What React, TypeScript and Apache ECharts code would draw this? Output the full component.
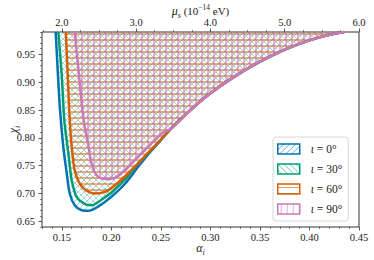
import React, { useEffect, useRef } from 'react';
import * as echarts from 'echarts';

// ---- data ----
const seriesNames = ['ι = 0°', 'ι = 30°', 'ι = 60°', 'ι = 90°'];
const lineColors = ['#0173b2', '#029e73', '#d55e00', '#cc78bc'];
const hatchKinds = ['/', '\\', '-', '|'];

const alphaTicks = [0.15, 0.2, 0.25, 0.3, 0.35, 0.4, 0.45];
const chiTicks = [0.65, 0.7, 0.75, 0.8, 0.85, 0.9, 0.95];
const muTicks = [2.0, 3.0, 4.0, 5.0, 6.0];

// shared upper-right branch (all contours coincide here)
const upperBranch: [number, number][] = [
  [0.26, 0.816], [0.28, 0.850], [0.30, 0.880], [0.32, 0.905], [0.34, 0.927],
  [0.36, 0.946], [0.38, 0.962], [0.40, 0.975], [0.42, 0.985], [0.435, 0.99],
];

const contour0: [number, number][] = [
  [0.1438, 0.99], [0.1462, 0.91], [0.1482, 0.85], [0.1515, 0.784], [0.155, 0.736],
  [0.158, 0.700], [0.163, 0.679], [0.170, 0.670], [0.177, 0.669], [0.187, 0.677],
  [0.200, 0.694], [0.214, 0.718], [0.227, 0.748], [0.237, 0.770], [0.247, 0.790],
];
const contour30: [number, number][] = [
  [0.1465, 0.99], [0.150, 0.91], [0.1525, 0.832], [0.1566, 0.772], [0.160, 0.724],
  [0.165, 0.694], [0.1734, 0.681], [0.180, 0.679], [0.190, 0.689], [0.200, 0.702],
  [0.213, 0.724], [0.226, 0.751], [0.237, 0.772], [0.247, 0.791],
];
const contour60: [number, number][] = [
  [0.154, 0.99], [0.156, 0.91], [0.158, 0.832], [0.160, 0.784], [0.163, 0.742],
  [0.168, 0.718], [0.175, 0.705], [0.1835, 0.700], [0.1936, 0.703], [0.2037, 0.715],
  [0.217, 0.736], [0.227, 0.754], [0.237, 0.773], [0.247, 0.791],
];
const contour90: [number, number][] = [
  [0.163, 0.99], [0.1675, 0.91], [0.172, 0.832], [0.177, 0.784], [0.180, 0.754],
  [0.185, 0.733], [0.1936, 0.726], [0.202, 0.727], [0.212, 0.739], [0.222, 0.757],
  [0.232, 0.775], [0.244, 0.796], [0.252, 0.809],
];
const contours = [contour0, contour30, contour60, contour90].map((c) => c.concat(upperBranch));

// axis ranges
const alphaMin = 0.13;
const alphaMax = 0.45;
const chiMin = 0.64;
const chiMax = 0.99;
const alphaPerMu = 0.075; // alpha = 0.075 * mu (top axis)

function steps(a: number, b: number, step: number, major: number[]): number[] {
  const out: number[] = [];
  const n = Math.round((b - a) / step);
  for (let i = 0; i <= n; i++) {
    const v = +(a + i * step).toFixed(4);
    if (!major.some((m) => Math.abs(m - v) < 1e-6)) out.push(v);
  }
  return out;
}

function hatch(kind: string, color: string, width: number) {
  const s = 6;
  const c = document.createElement('canvas');
  c.width = s;
  c.height = s;
  const ctx = c.getContext('2d')!;
  ctx.strokeStyle = color;
  ctx.lineWidth = width;
  ctx.beginPath();
  const mid = width >= 1.5 ? 4 : 3.5;
  if (kind === '/') {
    for (const o of [-s, 0, s]) { ctx.moveTo(o, s); ctx.lineTo(o + s, 0); }
  } else if (kind === '\\') {
    for (const o of [-s, 0, s]) { ctx.moveTo(o, 0); ctx.lineTo(o + s, s); }
  } else if (kind === '-') {
    ctx.moveTo(0, mid); ctx.lineTo(s, mid);
  } else {
    ctx.moveTo(mid, 0); ctx.lineTo(mid, s);
  }
  ctx.stroke();
  return { image: c, repeat: 'repeat', imageWidth: s, imageHeight: s } as any;
}

function hexToRgba(hex: string, a: number) {
  const r = parseInt(hex.slice(1, 3), 16);
  const g = parseInt(hex.slice(3, 5), 16);
  const b = parseInt(hex.slice(5, 7), 16);
  return `rgba(${r},${g},${b},${a})`;
}

const SERIF = 'Liberation Serif';
const tickColor = '#333';
const hatchAlpha = [0.35, 0.35, 0.5, 0.55];
const hatchWidth = [1, 1, 2, 2];

export default function App() {
  const ref = useRef<HTMLDivElement>(null);
  useEffect(() => {
    if (!ref.current) return;
    const chart = echarts.init(ref.current, undefined, { renderer: 'svg' });
    const patterns = hatchKinds.map((k, i) => hatch(k, hexToRgba(lineColors[i], hatchAlpha[i]), hatchWidth[i]));
    const legendPatterns = hatchKinds.map((k, i) => hatch(k, hexToRgba(lineColors[i], 0.6), 1));

    const nameRich = {
      a: { fontFamily: SERIF, fontStyle: 'italic', fontSize: 12, lineHeight: 16, color: '#222' },
      s: { fontFamily: SERIF, fontStyle: 'italic', fontSize: 8, lineHeight: 8, verticalAlign: 'bottom', color: '#222' },
      n: { fontFamily: SERIF, fontSize: 11, lineHeight: 16, color: '#222' },
      p: { fontFamily: SERIF, fontSize: 7.5, lineHeight: 8, verticalAlign: 'top', color: '#222' },
    };

    const fillSeries = contours.map((pts, i) => ({
      type: 'custom',
      name: seriesNames[i],
      xAxisIndex: 0,
      yAxisIndex: 0,
      data: pts,
      silent: true,
      z: 1,
      renderItem: (params: any, api: any) => {
        if (params.dataIndex !== 0) return null;
        const points = pts.map((p) => api.coord(p));
        return {
          type: 'polygon',
          shape: { points },
          style: { fill: patterns[i], stroke: 'none' },
        };
      },
    }));

    const lineSeries = contours.map((pts, i) => ({
      type: 'line',
      name: seriesNames[i],
      xAxisIndex: 0,
      yAxisIndex: 0,
      data: pts,
      showSymbol: false,
      smooth: 0.3,
      silent: true,
      z: 3,
      lineStyle: { color: lineColors[i], width: 2.5 },
      itemStyle: { color: lineColors[i] },
    }));

    const labelStyle = { fontFamily: SERIF, fontSize: 10.5, color: '#222' };

    chart.setOption({
      animation: false,
      textStyle: { fontFamily: SERIF },
      grid: {
        left: 42, right: 15, top: 32, bottom: 33,
        outerBoundsMode: 'none', containLabel: false,
        show: true, borderColor: '#333', borderWidth: 1, backgroundColor: 'transparent',
      },
      legend: {
        left: 273,
        top: 137,
        orient: 'vertical',
        icon: 'rect',
        itemWidth: 22,
        itemHeight: 10,
        itemGap: 8,
        padding: [6, 6, 6, 4],
        backgroundColor: 'rgba(255,255,255,0.85)',
        borderColor: '#d8d8d8',
        borderWidth: 1,
        borderRadius: 3,
        selectedMode: false,
        data: seriesNames.map((n, i) => ({
          name: n,
          itemStyle: { color: legendPatterns[i], borderColor: lineColors[i], borderWidth: 1.5 },
        })),
        formatter: (name: string) => '{i|ι}{t|' + name.slice(1) + '}',
        textStyle: {
          fontFamily: SERIF,
          padding: [0, 0, 0, 6],
          lineHeight: 12,
          rich: {
            i: { fontFamily: SERIF, fontStyle: 'italic', fontSize: 11.5, color: '#222', lineHeight: 12 },
            t: { fontFamily: SERIF, fontSize: 11.5, color: '#222', lineHeight: 12 },
          },
        },
      },
      xAxis: [
        {
          type: 'value', position: 'bottom', min: alphaMin, max: alphaMax,
          axisLine: { show: false, onZero: false },
          splitLine: { show: false },
          axisTick: { show: true, customValues: alphaTicks, length: 3.5, lineStyle: { color: tickColor, width: 0.8 } },
          axisLabel: { customValues: alphaTicks, formatter: (v: number) => v.toFixed(2), margin: 5, ...labelStyle },
          name: '{a|α}{s|i}', nameLocation: 'middle', nameGap: 13, nameMoveOverlap: false,
          nameTextStyle: { rich: nameRich },
        },
        {
          type: 'value', position: 'bottom', min: alphaMin, max: alphaMax,
          axisLine: { show: false, onZero: false }, splitLine: { show: false },
          axisTick: { show: true, customValues: steps(0.13, 0.45, 0.01, alphaTicks), length: 2, lineStyle: { color: tickColor, width: 0.6 } },
          axisLabel: { show: false },
        },
        {
          type: 'value', position: 'top', min: alphaMin / alphaPerMu, max: alphaMax / alphaPerMu,
          axisLine: { show: false, onZero: false }, splitLine: { show: false },
          axisTick: { show: true, customValues: muTicks, length: 3.5, lineStyle: { color: tickColor, width: 0.8 } },
          axisLabel: { customValues: muTicks, formatter: (v: number) => v.toFixed(1), margin: 4, ...labelStyle },
          name: '{a|μ}{s|s}{n| (10}{p|−14}{n| eV)}', nameLocation: 'middle', nameGap: 13, nameMoveOverlap: false,
          nameTextStyle: { rich: nameRich },
        },
        {
          type: 'value', position: 'top', min: alphaMin / alphaPerMu, max: alphaMax / alphaPerMu,
          axisLine: { show: false, onZero: false }, splitLine: { show: false },
          axisTick: { show: true, customValues: steps(1.75, 6.0, 0.25, muTicks), length: 2, lineStyle: { color: tickColor, width: 0.6 } },
          axisLabel: { show: false },
        },
      ],
      yAxis: [
        {
          type: 'value', position: 'left', min: chiMin, max: chiMax,
          axisLine: { show: false, onZero: false }, splitLine: { show: false },
          axisTick: { show: true, customValues: chiTicks, length: 3.5, lineStyle: { color: tickColor, width: 0.8 } },
          axisLabel: { customValues: chiTicks, formatter: (v: number) => v.toFixed(2), margin: 7, ...labelStyle },
          name: '{a|χ}{s|i}', nameLocation: 'middle', nameGap: 21, nameMoveOverlap: false,
          nameTextStyle: { rich: nameRich },
        },
        {
          type: 'value', position: 'left', min: chiMin, max: chiMax,
          axisLine: { show: false, onZero: false }, splitLine: { show: false },
          axisTick: { show: true, customValues: steps(0.64, 0.99, 0.01, chiTicks), length: 2, lineStyle: { color: tickColor, width: 0.6 } },
          axisLabel: { show: false },
        },
      ],
      series: [...fillSeries, ...lineSeries],
    });
    return () => chart.dispose();
  }, []);
  return (
    <div
      ref={ref}
      style={{ position: 'absolute', left: 0, top: 0, width: 374, height: 260, background: '#fff' }}
    />
  );
}
